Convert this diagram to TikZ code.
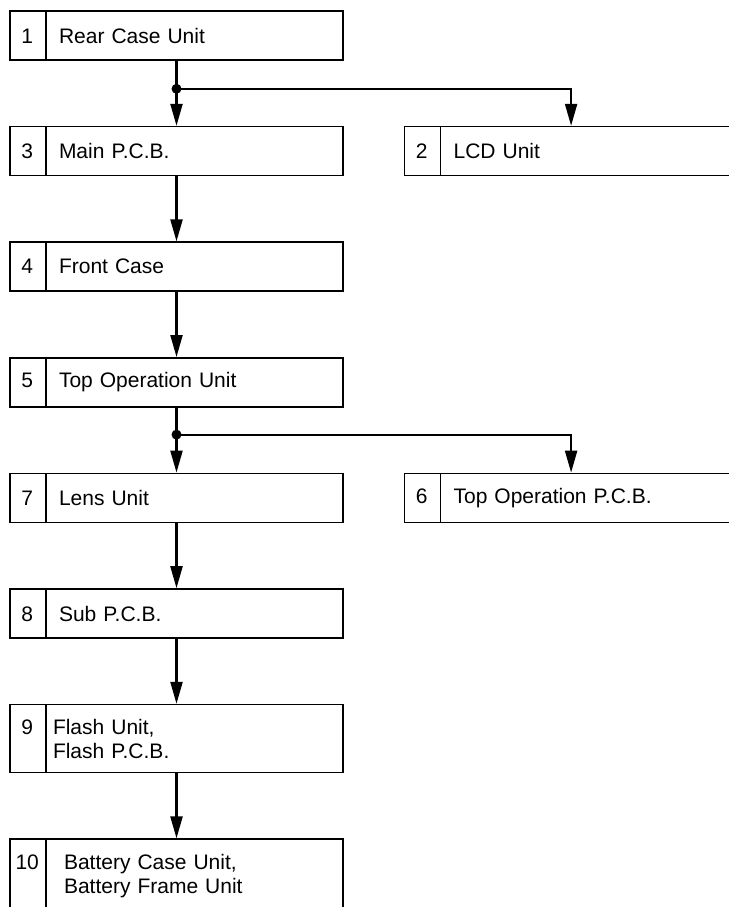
\documentclass[tikz,border=0pt]{standalone}
\usepackage{fontspec}
\setmainfont{Liberation Sans}
\usetikzlibrary{arrows.meta,positioning}

\begin{document}
\begin{tikzpicture}[
  node distance=65pt,
  unit/.style={draw,line width=1.6pt,minimum width=333pt,minimum height=49pt,inner xsep=0pt,
    text width=235pt,align=left,font=\fontsize{21}{24}\selectfont,
    path picture={\draw[line width=1.6pt] ([xshift=36pt]path picture bounding box.north west)
      -- ([xshift=36pt]path picture bounding box.south west);}},
  num/.style={font=\fontsize{21}{24}\selectfont,inner sep=0pt,anchor=base},
  arr/.style={-{Triangle[length=22pt,width=12pt]},line width=2.2pt}]
\useasboundingbox (0,0) rectangle (728pt,-907pt);
\node[unit] (u1) at (176.5pt,-35.5pt) {Rear Case Unit};
\node[unit,below=of u1] (u3) {Main P.C.B.};
\node[unit,right=60pt of u3] (u2) {LCD Unit};
\node[unit,below=of u3] (u4) {Front Case};
\node[unit,below=of u4] (u5) {Top Operation Unit};
\node[unit,below=of u5] (u7) {Lens Unit};
\node[unit,right=60pt of u7] (u6) {Top Operation P.C.B.};
\node[unit,below=of u7] (u8) {Sub P.C.B.};
\node[unit,below=of u8,minimum height=68pt,text width=247pt] (u9) {Flash Unit,\\Flash P.C.B.};
\node[unit,below=of u9,minimum height=74pt,text width=225pt] (u10) {Battery Case Unit,\\Battery Frame Unit};
\foreach \k in {1,...,10}\node[num] (n\k) at ([xshift=18pt]u\k.west |- u\k.base) {\k};
% branch points
\coordinate (j1) at ([yshift=-28pt]u1.south);
\coordinate (j5) at ([yshift=-27pt]u5.south);
\foreach \x/\y in {u1/u3,u3/u4,u4/u5,u5/u7,u7/u8,u8/u9,u9/u10}\draw[arr] (\x) -- (\y);
\draw[arr] (j1) -| (u2.north);
\draw[arr] (j5) -| (u6.north);
\fill (j1) circle (5pt) (j5) circle (5pt);
\end{tikzpicture}
\end{document}
